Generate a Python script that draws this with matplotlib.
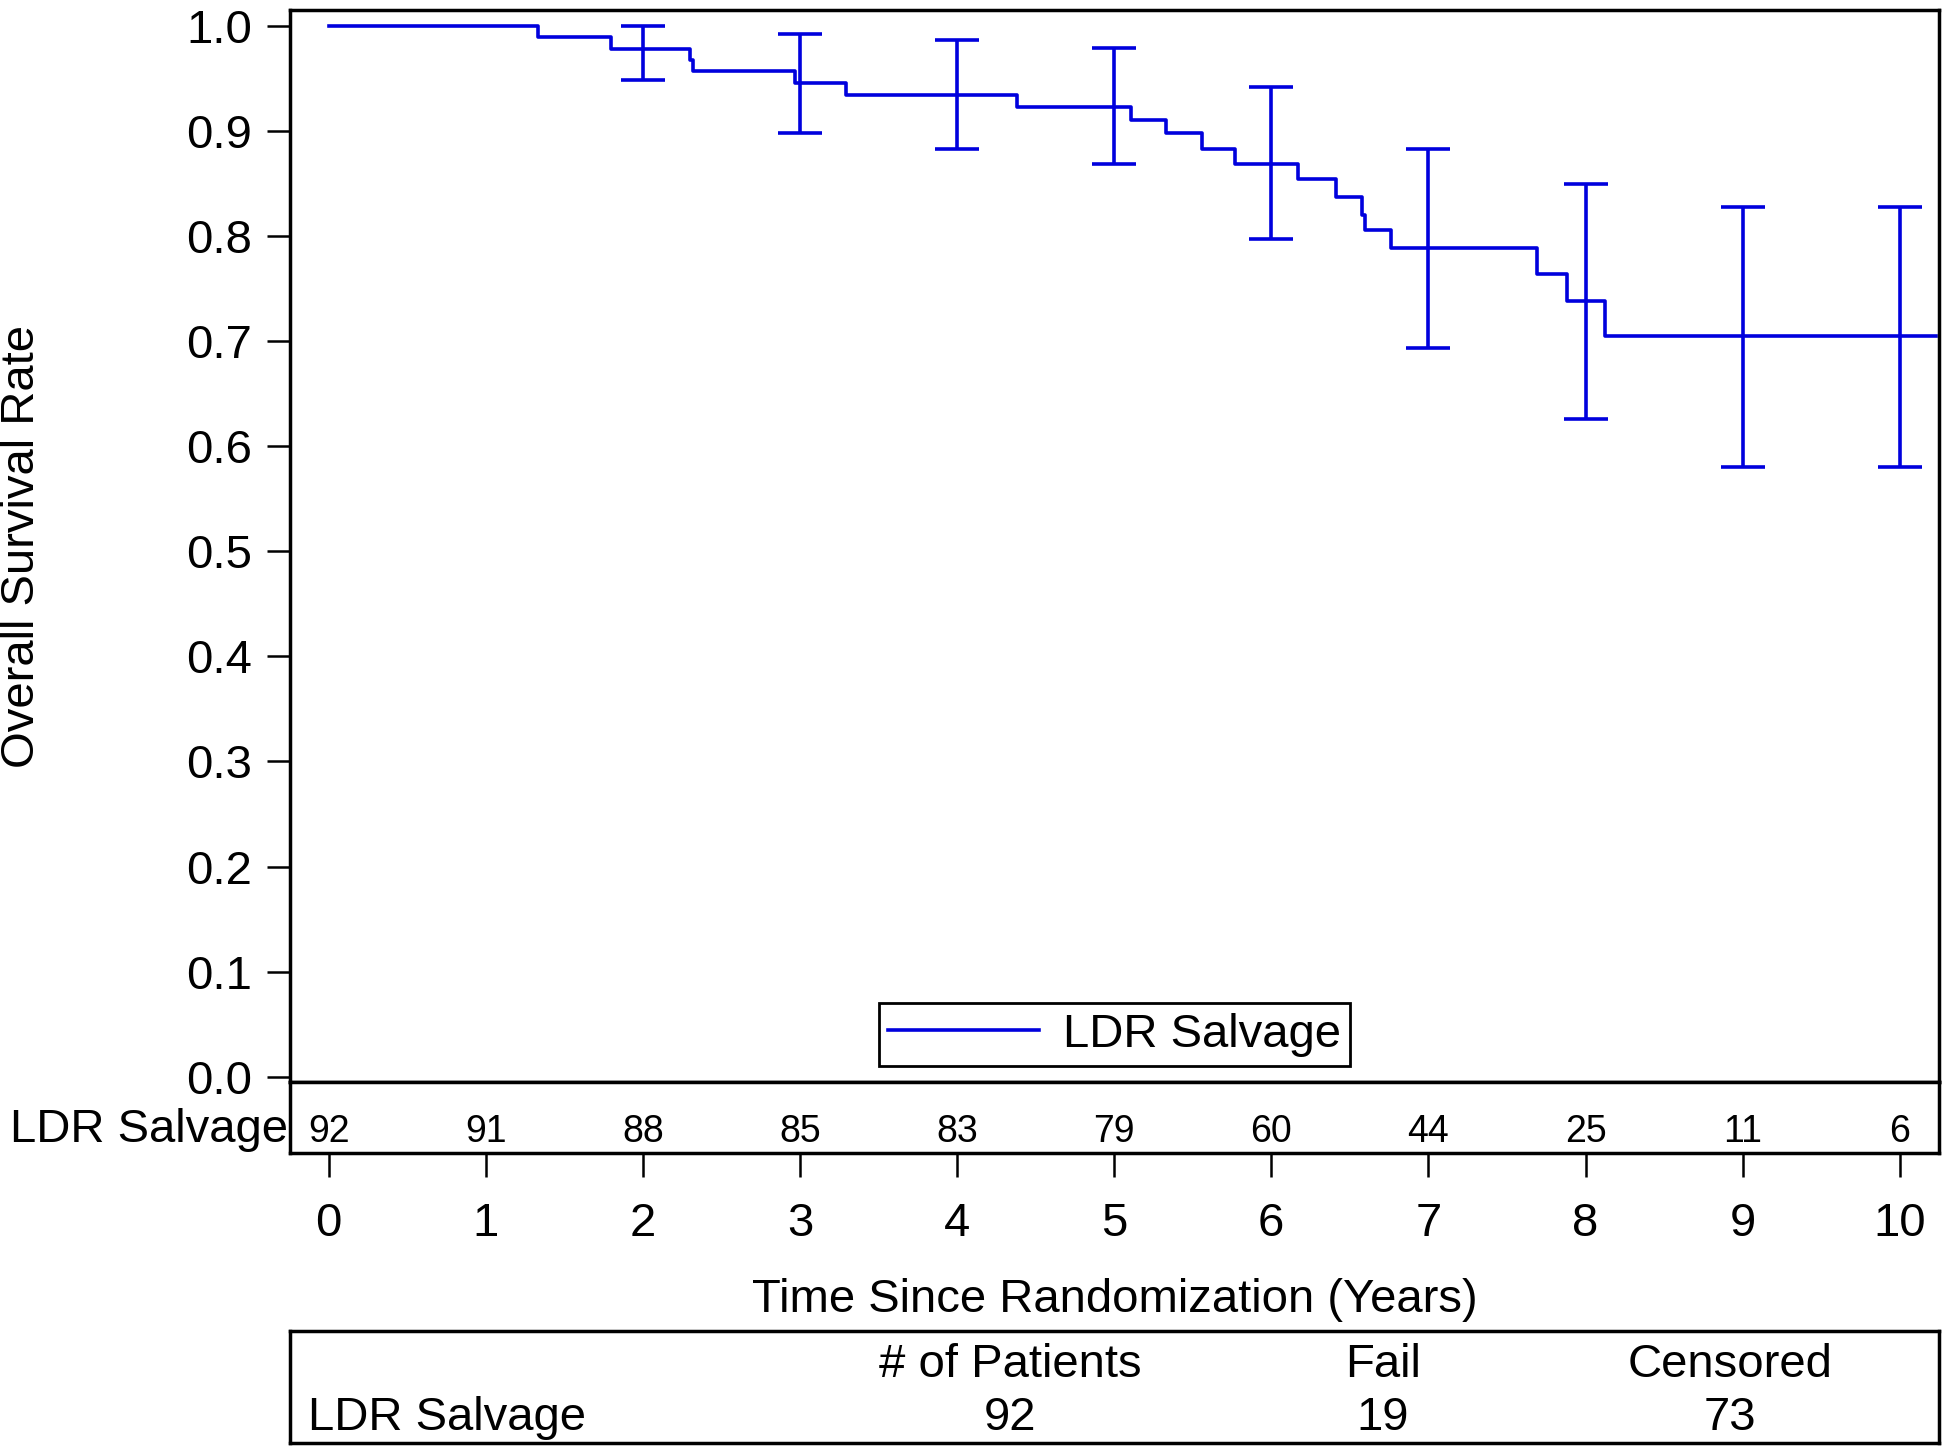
import matplotlib
matplotlib.use('Agg')
import matplotlib.pyplot as plt
from matplotlib.ticker import FormatStrFormatter
import numpy as np

plt.rcParams['font.family'] = ['Liberation Sans', 'DejaVu Sans']

# Kaplan-Meier steps
step_times = [0, 1.33, 1.80, 2.30, 2.32, 2.97, 3.29, 4.38, 5.11, 5.33, 5.56,
              5.77, 6.17, 6.41, 6.575, 6.595, 6.76, 7.69, 7.885, 8.125]
surv = [1.0, 0.989, 0.978, 0.967, 0.957, 0.946, 0.934, 0.923, 0.910, 0.898, 0.883,
        0.868, 0.854, 0.837, 0.820, 0.806, 0.789, 0.764, 0.738, 0.705]
end_time = 10.23

# confidence intervals at yearly marks
ci_times = [2, 3, 4, 5, 6, 7, 8, 9, 10]
ci_lower = [0.948, 0.898, 0.883, 0.868, 0.797, 0.693, 0.626, 0.580, 0.580]
ci_upper = [1.000, 0.992, 0.986, 0.979, 0.942, 0.883, 0.849, 0.828, 0.828]

risk_times = [0, 1, 2, 3, 4, 5, 6, 7, 8, 9, 10]
at_risk = [92, 91, 88, 85, 83, 79, 60, 44, 25, 11, 6]

group = 'LDR Salvage'
table_cols = ['# of Patients', 'Fail', 'Censored']
table_vals = [92, 19, 73]

blue = '#0000DD'
fs = 34
lw = 2.6
W, H = 1945, 1451
xl, xr = 290, 1939

fig = plt.figure(figsize=(W / 100, H / 100), dpi=100)

# main plot
ax = fig.add_axes([xl / W, 1 - 1082 / H, (xr - xl) / W, (1082 - 10) / H])
ax.step(step_times + [end_time], surv + [surv[-1]], where='post',
        color=blue, lw=lw, label=group)
idx = np.searchsorted(step_times, ci_times, side='right') - 1
mid = np.array(surv)[idx]
ax.errorbar(ci_times, mid, yerr=[mid - np.array(ci_lower), np.array(ci_upper) - mid],
            fmt='none', ecolor=blue, elinewidth=lw, capsize=15.5, capthick=lw)
ax.set_xlim(-0.246, 10.25)
ax.set_ylim(-0.005, 1.015)
ax.set_yticks(np.arange(0, 1.01, 0.1))
ax.yaxis.set_major_formatter(FormatStrFormatter('%.1f'))
ax.tick_params(axis='y', direction='out', length=16.5, width=1.8, pad=11, labelsize=fs)
ax.tick_params(axis='x', bottom=False, labelbottom=False)
for s in ax.spines.values():
    s.set_linewidth(2.5)
ax.set_ylabel('Overall Survival Rate', fontsize=fs, va='center')
ax.yaxis.set_label_coords((22 - xl) / (xr - xl), 0.5)
leg = ax.legend(loc='lower center', bbox_to_anchor=(0.5, (1082 - 1066) / 1072),
                borderaxespad=0, fontsize=fs, frameon=True, fancybox=False,
                framealpha=1, handlelength=3.2, handletextpad=0.5, borderpad=0.2)
leg.get_frame().set_edgecolor('black')
leg.get_frame().set_linewidth(2.0)
leg.get_lines()[0].set_linewidth(lw)

# number at risk row
axr = fig.add_axes([xl / W, 1 - 1153 / H, (xr - xl) / W, (1153 - 1082) / H])
axr.set_xlim(ax.get_xlim())
axr.set_ylim(0, 1)
axr.set_yticks([])
axr.set_xticks(risk_times)
axr.tick_params(axis='x', direction='out', length=17, width=1.8, pad=18, labelsize=fs)
for s in axr.spines.values():
    s.set_linewidth(2.5)
for t, n in zip(risk_times, at_risk):
    axr.text(t, 0.16, str(n), ha='center', va='baseline', fontsize=27)
axr.text(-0.001, 0.16, group, transform=axr.transAxes, ha='right', va='baseline',
         fontsize=fs)
axr.set_xlabel('Time Since Randomization (Years)', fontsize=fs, va='center')
axr.xaxis.set_label_coords(0.5, (1153 - 1300) / (1153 - 1082))

# summary table
axt = fig.add_axes([xl / W, 1 - 1443 / H, (xr - xl) / W, (1443 - 1331) / H])
axt.set_xticks([])
axt.set_yticks([])
for s in axt.spines.values():
    s.set_linewidth(2.5)
col_x = [0.4366, 0.6628, 0.8733]
for cx, name, v in zip(col_x, table_cols, table_vals):
    axt.text(cx, 0.59, name, ha='center', va='baseline', fontsize=fs, transform=axt.transAxes)
    axt.text(cx, 0.116, str(v), ha='center', va='baseline', fontsize=fs, transform=axt.transAxes)
axt.text(0.0107, 0.116, group, ha='left', va='baseline', fontsize=fs, transform=axt.transAxes)

fig.savefig('out.png', dpi=100)
